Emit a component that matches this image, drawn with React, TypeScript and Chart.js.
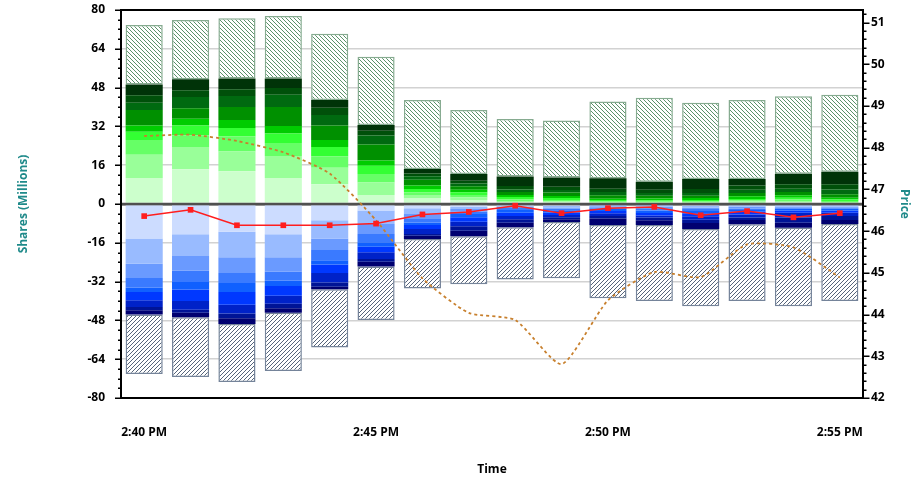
import React, { useEffect, useRef } from 'react';
import { Chart, registerables } from 'chart.js';

Chart.register(...registerables);

const times = [
  '2:40 PM', '2:41 PM', '2:42 PM', '2:43 PM', '2:44 PM', '2:45 PM', '2:46 PM', '2:47 PM',
  '2:48 PM', '2:49 PM', '2:50 PM', '2:51 PM', '2:52 PM', '2:53 PM', '2:54 PM', '2:55 PM',
];

// Buy side (positive): top edge of each stacked layer, lightest layer first (millions of shares)
const buyL1 = [10.7, 14.3, 13.5, 10.7, 8.1, 3.7, 2.3, 1.6, 0.8, 0.7, 0.4, 0.4, 0.5, 0.5, 0.6, 0.4];
const buyL2 = [20.3, 23.5, 21.7, 19.8, 15.0, 8.9, 3.7, 2.7, 1.2, 1.1, 0.7, 0.7, 0.8, 1.0, 1.2, 0.8];
const buyL3 = [26.4, 28.3, 27.8, 25.2, 19.7, 12.4, 4.8, 3.7, 1.9, 1.6, 1.1, 1.0, 1.1, 1.4, 1.9, 1.2];
const buyL4 = [29.8, 32.4, 31.3, 29.1, 23.5, 15.8, 6.2, 4.8, 2.9, 2.5, 1.6, 1.5, 1.6, 2.1, 2.6, 1.9];
const buyL5 = [32.4, 35.2, 34.6, 32.2, 26.4, 17.9, 7.6, 5.9, 3.7, 3.3, 2.2, 2.3, 2.5, 3.2, 3.6, 2.6];
const buyL6 = [38.8, 39.5, 40.0, 40.0, 32.4, 24.5, 10.0, 7.3, 4.9, 4.7, 3.6, 3.4, 3.4, 4.5, 4.9, 4.0];
const buyL7 = [41.8, 44.1, 44.5, 45.1, 36.7, 28.2, 11.4, 8.5, 6.0, 5.8, 4.9, 4.5, 4.5, 5.9, 6.3, 6.0];
const buyL8 = [44.8, 46.9, 47.3, 47.8, 39.7, 30.2, 12.6, 9.6, 7.4, 7.1, 6.3, 5.9, 6.2, 7.6, 8.1, 8.1];
const buyL9 = [49.3, 51.4, 51.8, 51.8, 42.9, 32.6, 14.4, 12.4, 11.3, 10.9, 10.6, 9.2, 10.3, 10.3, 12.5, 13.3];
const buyTotal = [73.8, 75.9, 76.6, 77.5, 70.2, 60.7, 42.9, 38.8, 35.1, 34.4, 42.3, 43.8, 41.8, 42.9, 44.4, 45.1];

// Sell side (drawn below zero): depth of each stacked layer, lightest layer first
const sellL1 = [14.2, 12.5, 11.4, 12.5, 6.7, 2.7, 1.8, 1.2, 0.7, 0.8, 0.5, 0.5, 0.7, 0.5, 0.5, 0.5];
const sellL2 = [24.6, 21.4, 22.0, 22.0, 14.2, 8.2, 4.1, 2.1, 1.1, 1.4, 0.9, 1.1, 1.4, 1.1, 1.1, 1.1];
const sellL3 = [30.5, 27.4, 28.5, 27.8, 19.0, 12.4, 5.9, 3.2, 1.6, 1.9, 1.4, 1.8, 2.1, 1.9, 1.5, 1.5];
const sellL4 = [34.5, 32.2, 32.6, 31.6, 23.2, 15.8, 7.6, 4.1, 2.5, 2.6, 1.9, 2.7, 2.9, 2.5, 1.9, 1.9];
const sellL5 = [36.3, 35.3, 36.3, 33.8, 24.9, 17.6, 8.7, 5.5, 3.6, 3.6, 2.9, 3.7, 3.8, 3.2, 2.7, 2.7];
const sellL6 = [39.7, 40.0, 41.5, 37.8, 28.5, 19.9, 10.3, 7.3, 4.9, 4.5, 3.8, 4.7, 5.1, 4.3, 3.6, 3.6];
const sellL7 = [42.5, 43.6, 45.2, 41.1, 32.4, 22.7, 12.4, 9.2, 6.3, 5.5, 4.9, 5.6, 6.5, 5.6, 5.6, 4.9];
const sellL8 = [43.8, 44.8, 47.1, 43.0, 34.1, 23.8, 13.1, 11.0, 7.7, 6.3, 6.0, 6.7, 7.8, 6.6, 7.7, 6.6];
const sellL9 = [45.6, 46.7, 49.5, 44.8, 35.2, 25.8, 14.4, 13.3, 9.6, 7.4, 8.7, 8.7, 10.3, 8.4, 9.8, 8.2];
const sellTotal = [70.1, 71.3, 73.4, 68.9, 59.2, 47.8, 34.8, 33.1, 31.1, 30.6, 38.9, 40.0, 42.2, 40.0, 42.2, 40.0];

// Price series (right axis)
const lastPrice = [46.36, 46.51, 46.14, 46.14, 46.14, 46.18, 46.40, 46.46, 46.61, 46.43, 46.55, 46.58, 46.38, 46.48, 46.33, 46.43];
const trendPrice = [48.28, 48.31, 48.16, 47.89, 47.38, 46.26, 44.87, 44.04, 43.87, 42.81, 44.34, 45.02, 44.90, 45.68, 45.61, 44.89];

const buyColors = ['#ccffcc', '#99ff99', '#66ff66', '#33ff33', '#00cc00', '#009000', '#006a10', '#00500a', '#003308'];
const sellColors = ['#ccdcff', '#99bbff', '#6a9aff', '#3a7aff', '#1060ff', '#0038ff', '#0022c8', '#001496', '#000070'];

const TEAL = '#1f8a8a';
const FONT = "'Open Sans', 'DejaVu Sans', sans-serif";

function makeHatch(lineColor: string, back: boolean): CanvasPattern | string {
  const s = 4;
  const c = document.createElement('canvas');
  c.width = s;
  c.height = s;
  const g = c.getContext('2d');
  if (!g) return lineColor;
  g.fillStyle = '#ffffff';
  g.fillRect(0, 0, s, s);
  g.strokeStyle = lineColor;
  g.lineWidth = 1;
  g.beginPath();
  if (back) {
    g.moveTo(0, 0); g.lineTo(s, s);
    g.moveTo(-1, s - 1); g.lineTo(1, s + 1);
    g.moveTo(s - 1, -1); g.lineTo(s + 1, 1);
  } else {
    g.moveTo(0, s); g.lineTo(s, 0);
    g.moveTo(-1, 1); g.lineTo(1, -1);
    g.moveTo(s - 1, s + 1); g.lineTo(s + 1, s - 1);
  }
  g.stroke();
  const p = g.createPattern(c, 'repeat');
  return p || lineColor;
}

const axesPlugin = {
  id: 'axesDecor',
  beforeDatasetsDraw(chart: any) {
    chart.$zeroDone = false;
  },
  beforeDatasetDraw(chart: any, args: any) {
    const ds = chart.data.datasets[args.index];
    if (ds.type === 'line' && !chart.$zeroDone) {
      chart.$zeroDone = true;
      const { ctx, chartArea } = chart;
      const y0 = chart.scales.y.getPixelForValue(0);
      ctx.save();
      ctx.strokeStyle = '#505050';
      ctx.lineWidth = 2.5;
      ctx.beginPath();
      ctx.moveTo(chartArea.left, y0);
      ctx.lineTo(chartArea.right, y0);
      ctx.stroke();
      ctx.restore();
    }
  },
  afterDraw(chart: any) {
    const { ctx, chartArea } = chart;
    const ys = chart.scales.y;
    const yr = chart.scales.y1;
    ctx.save();
    ctx.strokeStyle = '#000000';
    ctx.lineWidth = 1.5;
    ctx.beginPath();
    for (let i = 0; i <= 40; i++) {
      const v = -80 + i * 4;
      const py = Math.round(ys.getPixelForValue(v)) + 0.25;
      const len = i % 4 === 0 ? 6 : 3;
      ctx.moveTo(chartArea.left - len, py);
      ctx.lineTo(chartArea.left, py);
    }
    for (let i = 0; i <= 46; i++) {
      const v = 42 + i * 0.2;
      const py = Math.round(yr.getPixelForValue(v)) + 0.25;
      const len = i % 5 === 0 ? 6.5 : 3.5;
      ctx.moveTo(chartArea.right, py);
      ctx.lineTo(chartArea.right + len, py);
    }
    ctx.stroke();
    ctx.lineWidth = 2;
    ctx.strokeRect(chartArea.left, chartArea.top, chartArea.right - chartArea.left, chartArea.bottom - chartArea.top);
    ctx.restore();
  },
};

export default function App() {
  const ref = useRef<HTMLCanvasElement | null>(null);

  useEffect(() => {
    if (!ref.current) return;
    Chart.defaults.font.family = FONT;

    const greenHatch = makeHatch('#5a9169', true);
    const blueHatch = makeHatch('#56647a', false);

    const buyLevels = [buyL1, buyL2, buyL3, buyL4, buyL5, buyL6, buyL7, buyL8, buyL9, buyTotal];
    const sellLevels = [sellL1, sellL2, sellL3, sellL4, sellL5, sellL6, sellL7, sellL8, sellL9, sellTotal];

    const barBase = {
      type: 'bar' as const,
      yAxisID: 'y',
      stack: 'vol',
      order: 1,
      categoryPercentage: 1,
      barPercentage: 0.8,
    };

    const buySets = buyLevels.map((lv, k) => {
      const data = times.map((_, i) => +(lv[i] - (k ? buyLevels[k - 1][i] : 0)).toFixed(2));
      const hatch = k === buyLevels.length - 1;
      return {
        ...barBase,
        label: hatch ? 'Buy other' : `Buy ${k + 1}`,
        data,
        backgroundColor: hatch ? greenHatch : buyColors[k],
        borderColor: hatch ? '#86ab90' : buyColors[k],
        borderWidth: hatch ? 1.5 : 0,
        borderSkipped: false,
      };
    });

    const sellSets = sellLevels.map((lv, k) => {
      const data = times.map((_, i) => -+(lv[i] - (k ? sellLevels[k - 1][i] : 0)).toFixed(2));
      const hatch = k === sellLevels.length - 1;
      return {
        ...barBase,
        label: hatch ? 'Sell other' : `Sell ${k + 1}`,
        data,
        backgroundColor: hatch ? blueHatch : sellColors[k],
        borderColor: hatch ? '#75849a' : sellColors[k],
        borderWidth: hatch ? 1.5 : 0,
        borderSkipped: false,
      };
    });

    const tickFont = { family: FONT, size: 12, weight: 'bold' as const };

    const chart = new Chart(ref.current, {
      type: 'bar',
      data: {
        labels: times,
        datasets: [
          {
            type: 'line',
            label: 'Price',
            data: lastPrice,
            yAxisID: 'y1',
            order: 0,
            borderColor: '#ff1e1e',
            backgroundColor: '#ff1e1e',
            borderWidth: 1.5,
            pointStyle: 'rect',
            pointRadius: 4,
            pointBorderWidth: 0,
            tension: 0,
          },
          {
            type: 'line',
            label: 'Trend',
            data: trendPrice,
            yAxisID: 'y1',
            order: 0,
            borderColor: '#c8802e',
            backgroundColor: '#c8802e',
            borderWidth: 1.8,
            borderDash: [3, 3],
            pointRadius: 0,
            tension: 0.2,
          },
          ...buySets,
          ...sellSets,
        ] as any,
      },
      options: {
        responsive: false,
        animation: false,
        layout: { padding: { top: 10, left: 0, right: 0, bottom: 0 } },
        plugins: {
          legend: { display: false },
          tooltip: { enabled: false },
        },
        scales: {
          x: {
            stacked: true,
            grid: { display: false, drawOnChartArea: false, drawTicks: true, tickLength: 27, tickColor: 'rgba(0,0,0,0)' },
            border: { display: false },
            ticks: {
              autoSkip: false,
              maxRotation: 0,
              padding: 0,
              color: '#000000',
              font: tickFont,
              callback: (_v: any, i: number) => (i % 5 === 0 ? times[i] : ''),
            },
            title: {
              display: true,
              text: 'Time',
              color: '#000000',
              font: tickFont,
              padding: { top: 0, bottom: 3 },
            },
            afterFit: (s: any) => { s.height = 82; },
          },
          y: {
            stacked: true,
            position: 'left',
            min: -80,
            max: 80,
            ticks: { stepSize: 16, padding: 0, color: '#000000', font: tickFont },
            grid: {
              drawTicks: true,
              tickLength: 16,
              tickColor: 'rgba(0,0,0,0)',
              color: (c: any) => (c.tick && c.tick.value === 0 ? '#505050' : '#d2d2d2'),
              lineWidth: (c: any) => (c.tick && c.tick.value === 0 ? 2.5 : 1.5),
            },
            border: { display: false },
            title: {
              display: true,
              text: 'Shares (Millions)',
              color: TEAL,
              font: tickFont,
              padding: { top: 16, bottom: 0 },
            },
            afterFit: (s: any) => { s.width = 121; },
          },
          y1: {
            position: 'right',
            min: 42,
            max: 51.3,
            ticks: { stepSize: 1, includeBounds: false, padding: 0, color: '#000000', font: tickFont },
            grid: { drawOnChartArea: false, drawTicks: true, tickLength: 8, tickColor: 'rgba(0,0,0,0)' },
            border: { display: false },
            title: {
              display: true,
              text: 'Price',
              color: TEAL,
              font: tickFont,
              padding: { top: 12, bottom: 0 },
            },
            afterFit: (s: any) => { s.width = 61; },
          },
        },
      } as any,
      plugins: [axesPlugin as any],
    });

    return () => chart.destroy();
  }, []);

  return (
    <div style={{ position: 'absolute', left: 0, top: 0, width: 924, height: 480, background: '#ffffff' }}>
      <canvas ref={ref} width={924} height={480} style={{ display: 'block' }} />
    </div>
  );
}
